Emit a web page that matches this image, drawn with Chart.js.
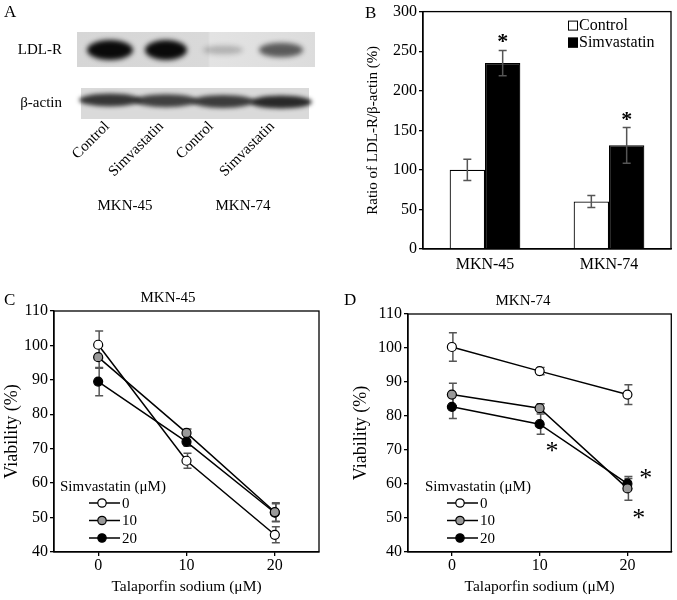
<!DOCTYPE html>
<html>
<head>
<meta charset="utf-8">
<script src="https://cdn.jsdelivr.net/npm/chart.js@4.4.0/dist/chart.umd.min.js"></script>
<style>
body { margin: 0; background: #fff; font-family: "Liberation Serif", serif; }
#page { position: relative; width: 677px; height: 600px; overflow: hidden; }
.box { position: absolute; }
.lbl { position: absolute; font-size: 17px; color: #000; line-height: 1; }
.sub { position: absolute; font-size: 15px; color: #000; line-height: 1; transform: translateX(-50%); }
</style>
</head>
<body>
<div id="page">
  <canvas id="blot" width="340" height="290" style="position:absolute;left:0;top:0"></canvas>
  <div class="box" style="left:340px;top:0;width:337px;height:290px"><canvas id="chartB"></canvas></div>
  <div class="box" style="left:0;top:290px;width:340px;height:310px"><canvas id="chartC"></canvas></div>
  <div class="box" style="left:340px;top:290px;width:337px;height:310px"><canvas id="chartD"></canvas></div>
  <div class="lbl" style="left:4px;top:3px">A</div>
  <div class="lbl" style="left:365px;top:4px">B</div>
  <div class="lbl" style="left:4px;top:291px">C</div>
  <div class="lbl" style="left:344px;top:291px">D</div>
  <div class="sub" style="left:168px;top:290px">MKN-45</div>
  <div class="sub" style="left:523px;top:293px">MKN-74</div>
</div>
<script>
// panel A (western blot)
var laneNames = ["Control", "Simvastatin", "Control", "Simvastatin"];
var ldlrBand = [1.0, 1.0, 0.22, 0.62];
var actinBand = [0.85, 0.8, 0.82, 0.92];

// panel B
var cellLines = ["MKN-45", "MKN-74"];
var ratioControl = [100, 60];
var ratioControlErr = [13.5, 7.5];
var ratioSimva = [235, 131];
var ratioSimvaErr = [16, 22.5];
var ratioStar = [true, true];

// panels C and D
var talaporfin = [0, 10, 20];
var simvaDoses = ["0", "10", "20"];
var mkn45Via0 = [100.2, 66.5, 45.0];
var mkn45Err0 = [4.0, 2.2, 2.3];
var mkn45Via10 = [96.6, 74.6, 51.6];
var mkn45Err10 = [3.2, 1.1, 2.7];
var mkn45Via20 = [89.5, 72.0, 51.4];
var mkn45Err20 = [4.1, 1.3, 2.6];
var mkn74Via0 = [100.3, 93.2, 86.3];
var mkn74Err0 = [4.2, 1.1, 2.9];
var mkn74Via10 = [86.3, 82.3, 58.7];
var mkn74Err10 = [3.3, 1.3, 3.5];
var mkn74Via20 = [82.7, 77.6, 60.1];
var mkn74Err20 = [3.4, 3.0, 1.5];
// significance marks in panel D (talaporfin, viability)
var mkn74Stars = [[11.4, 71], [22.1, 63.3], [21.3, 51.5]];

var serif = "'Liberation Serif', serif";
Chart.defaults.font.family = serif;
Chart.defaults.color = "#000";

// ---- blot ----
(function () {
  var c = document.getElementById("blot").getContext("2d");
  var centers = [110, 166, 223, 281];
  var widths = [46, 42, 40, 44];
  c.font = "15px " + serif;
  c.fillStyle = "#000";
  c.textBaseline = "middle";
  c.textAlign = "right";
  c.fillText("LDL-R", 62, 50);
  c.fillText("\u03b2-actin", 62, 103);

  // LDL-R strip
  var g = c.createLinearGradient(77, 0, 315, 0);
  g.addColorStop(0, "#d6d6d6");
  g.addColorStop(0.55, "#d9d9d9");
  g.addColorStop(0.56, "#e3e3e3");
  g.addColorStop(1, "#dcdcdc");
  c.fillStyle = g;
  c.fillRect(77, 32, 238, 35);
  c.save();
  c.filter = "blur(2.5px)";
  ldlrBand.forEach(function (v, i) {
    var h = 6 + 14 * v;
    c.fillStyle = "rgba(10,10,10," + v + ")";
    c.beginPath();
    c.ellipse(centers[i], 50, widths[i] / 2, h / 2, 0, 0, Math.PI * 2);
    c.fill();
  });
  c.restore();

  // beta-actin strip
  c.fillStyle = "#dadada";
  c.fillRect(81, 88, 228, 31);
  c.save();
  c.filter = "blur(2px)";
  actinBand.forEach(function (v, i) {
    c.fillStyle = "rgba(25,25,25," + v + ")";
    c.beginPath();
    c.ellipse(centers[i], 100 + i * 0.7, 31, 6.5, 0, 0, Math.PI * 2);
    c.fill();
  });
  c.restore();

  // lane labels
  c.fillStyle = "#000";
  c.textBaseline = "alphabetic";
  c.textAlign = "right";
  var ends = [[110, 127], [164, 127], [214, 127], [275, 127]];
  laneNames.forEach(function (t, i) {
    c.save();
    c.translate(ends[i][0], ends[i][1]);
    c.rotate(-Math.PI / 4);
    c.fillText(t, 0, 0);
    c.restore();
  });
  c.textAlign = "center";
  c.fillText("MKN-45", 125, 210);
  c.fillText("MKN-74", 243, 210);
})();

// ---- shared plugins ----
function valOf(d) { return typeof d === "object" ? d.y : d; }

var frame = {
  id: "frame",
  afterDraw(chart) {
    var a = chart.chartArea, c = chart.ctx;
    c.save();
    c.strokeStyle = "#000";
    c.lineWidth = 1.3;
    c.strokeRect(a.left, a.top, a.right - a.left, a.bottom - a.top);
    c.restore();
  }
};

function drawErrors(chart) {
  var c = chart.ctx, ys = chart.scales.y;
  chart.data.datasets.forEach(function (ds, i) {
    if (!ds.errors) return;
    var meta = chart.getDatasetMeta(i);
    meta.data.forEach(function (el, j) {
      var v = valOf(ds.data[j]), e = ds.errors[j];
      var top = ys.getPixelForValue(v + e), bot = ys.getPixelForValue(v - e);
      var x = el.x + (ds.errShift || 0);
      c.save();
      c.strokeStyle = "#555";
      c.lineWidth = 1.5;
      c.beginPath();
      c.moveTo(x, top); c.lineTo(x, bot);
      c.moveTo(x - 4, top); c.lineTo(x + 4, top);
      c.moveTo(x - 4, bot); c.lineTo(x + 4, bot);
      c.stroke();
      c.restore();
    });
  });
}

var errorsUnder = { id: "errorsUnder", beforeDatasetsDraw: drawErrors };
var errorsOver = { id: "errorsOver", afterDatasetsDraw: drawErrors };

// ---- panel B ----
var barStars = {
  id: "barStars",
  afterDatasetsDraw(chart) {
    var c = chart.ctx, ys = chart.scales.y;
    var meta = chart.getDatasetMeta(1);
    c.save();
    c.font = "bold 22px " + serif;
    c.textAlign = "center";
    c.fillStyle = "#000";
    meta.data.forEach(function (el, j) {
      if (!ratioStar[j]) return;
      var y = ys.getPixelForValue(ratioSimva[j] + ratioSimvaErr[j]);
      c.fillText("*", el.x, y - 2);
    });
    c.restore();
  }
};

var barLegend = {
  id: "barLegend",
  afterDraw(chart) {
    var c = chart.ctx, a = chart.chartArea;
    var x = a.left + 145, y = a.top + 14;
    c.save();
    c.font = "16px " + serif;
    c.textBaseline = "middle";
    chart.data.datasets.forEach(function (ds, i) {
      var yy = y + i * 17;
      c.fillStyle = ds.backgroundColor;
      c.fillRect(x, yy - 5, 10, 10);
      c.strokeStyle = "#000";
      c.lineWidth = 1;
      c.strokeRect(x + 0.5, yy - 4.5, 9, 9);
      c.fillStyle = "#000";
      c.fillText(ds.label, x + 11, yy);
    });
    c.restore();
  }
};

new Chart(document.getElementById("chartB"), {
  type: "bar",
  data: {
    labels: cellLines,
    datasets: [
      { label: "Control", data: ratioControl, errors: ratioControlErr,
        backgroundColor: "#fff", borderColor: "#000", borderWidth: 1.2 },
      { label: "Simvastatin", data: ratioSimva, errors: ratioSimvaErr,
        backgroundColor: "#000", borderColor: "#000", borderWidth: 1.2 }
    ]
  },
  options: {
    responsive: true,
    maintainAspectRatio: false,
    animation: false,
    layout: { padding: { top: 10, right: 6, left: 0, bottom: 0 } },
    datasets: { bar: { barPercentage: 1, categoryPercentage: 0.57 } },
    plugins: { legend: { display: false }, tooltip: { enabled: false } },
    scales: {
      x: {
        grid: { display: false, drawTicks: false },
        border: { color: "#000", width: 1.3 },
        ticks: { font: { size: 16 }, padding: 6 },
        afterFit(s) { s.height = 41; }
      },
      y: {
        min: 0, max: 300,
        ticks: { stepSize: 50, font: { size: 16 }, padding: 2 },
        grid: { drawOnChartArea: false, tickLength: 4, color: "#000", lineWidth: 1.3 },
        border: { color: "#000", width: 1.3 },
        title: { display: true, text: "Ratio of LDL-R/\u03b2-actin (%)", font: { size: 15 }, padding: { top: 24, bottom: 0 } },
        afterFit(s) { s.width = 83; }
      }
    }
  },
  plugins: [frame, errorsOver, barStars, barLegend]
});

// ---- panels C and D ----
var markerFill = ["#fff", "#999", "#000"];

function pts(vals) {
  return vals.map(function (v, i) { return { x: talaporfin[i], y: v }; });
}

function viaLegend(pos) {
  return {
    id: "viaLegend",
    afterDraw(chart) {
      var c = chart.ctx, a = chart.chartArea;
      var x = a.left + pos[0], y = a.top + pos[1];
      c.save();
      c.font = "15px " + serif;
      c.textBaseline = "middle";
      c.fillStyle = "#000";
      c.fillText("Simvastatin (\u03bcM)", x - pos[2], y);
      chart.data.datasets.forEach(function (ds, i) {
        var yy = y + 16 + i * 17.5;
        c.strokeStyle = "#000";
        c.lineWidth = 1.5;
        c.beginPath();
        c.moveTo(x, yy); c.lineTo(x + 31, yy);
        c.stroke();
        c.beginPath();
        c.arc(x + 13, yy, 4.2, 0, Math.PI * 2);
        c.fillStyle = ds.pointBackgroundColor;
        c.fill();
        c.lineWidth = 1.2;
        c.stroke();
        c.fillStyle = "#000";
        c.fillText(ds.label, x + 33, yy + 1);
      });
      c.restore();
    }
  };
}

function starMarks(list) {
  return {
    id: "starMarks",
    afterDatasetsDraw(chart) {
      var c = chart.ctx, xs = chart.scales.x, ys = chart.scales.y;
      c.save();
      c.font = "26px " + serif;
      c.textAlign = "center";
      c.textBaseline = "middle";
      c.fillStyle = "#000";
      list.forEach(function (s) {
        c.fillText("*", xs.getPixelForValue(s[0]), ys.getPixelForValue(s[1]) + 6);
      });
      c.restore();
    }
  };
}

function viaChart(id, series, errs, pad, yWidth, titlePad, legendPos, extra) {
  var datasets = series.map(function (vals, i) {
    return {
      label: simvaDoses[i],
      data: pts(vals),
      errors: errs[i],
      errShift: 1,
      borderColor: "#000",
      borderWidth: 1.5,
      pointRadius: 4.5,
      pointBorderWidth: 1.2,
      pointBorderColor: "#000",
      pointBackgroundColor: markerFill[i],
      fill: false,
      tension: 0
    };
  });
  new Chart(document.getElementById(id), {
    type: "line",
    data: { datasets: datasets },
    options: {
      responsive: true,
      maintainAspectRatio: false,
      animation: false,
      layout: { padding: pad },
      plugins: { legend: { display: false }, tooltip: { enabled: false } },
      scales: {
        x: {
          type: "linear",
          min: -5, max: 25,
          afterBuildTicks(s) { s.ticks = talaporfin.map(function (v) { return { value: v }; }); },
          ticks: { font: { size: 16 }, padding: 0 },
          grid: { drawOnChartArea: false, tickLength: 4, color: "#000", lineWidth: 1.3 },
          border: { color: "#000", width: 1.3 },
          title: { display: true, text: "Talaporfin sodium (\u03bcM)", font: { size: 15.5 }, padding: { top: 3 } },
          afterFit(s) { s.height = 48; }
        },
        y: {
          min: 40, max: 110,
          ticks: { stepSize: 10, font: { size: 16 }, padding: 2 },
          grid: { drawOnChartArea: false, tickLength: 4, color: "#000", lineWidth: 1.3 },
          border: { color: "#000", width: 1.3 },
          title: { display: true, text: "Viability (%)", font: { size: 18 }, padding: { top: titlePad, bottom: 0 } },
          afterFit(s) { s.width = yWidth; }
        }
      }
    },
    plugins: [frame, errorsUnder, viaLegend(legendPos)].concat(extra)
  });
}

viaChart("chartC",
  [mkn45Via0, mkn45Via10, mkn45Via20],
  [mkn45Err0, mkn45Err10, mkn45Err20],
  { top: 21, right: 21, left: 0, bottom: 0 }, 54, 1, [35, 176, 29], []);

viaChart("chartD",
  [mkn74Via0, mkn74Via10, mkn74Via20],
  [mkn74Err0, mkn74Err10, mkn74Err20],
  { top: 24, right: 5, left: 0, bottom: 0 }, 68, 10, [39, 173, 22], [starMarks(mkn74Stars)]);
</script>
</body>
</html>
